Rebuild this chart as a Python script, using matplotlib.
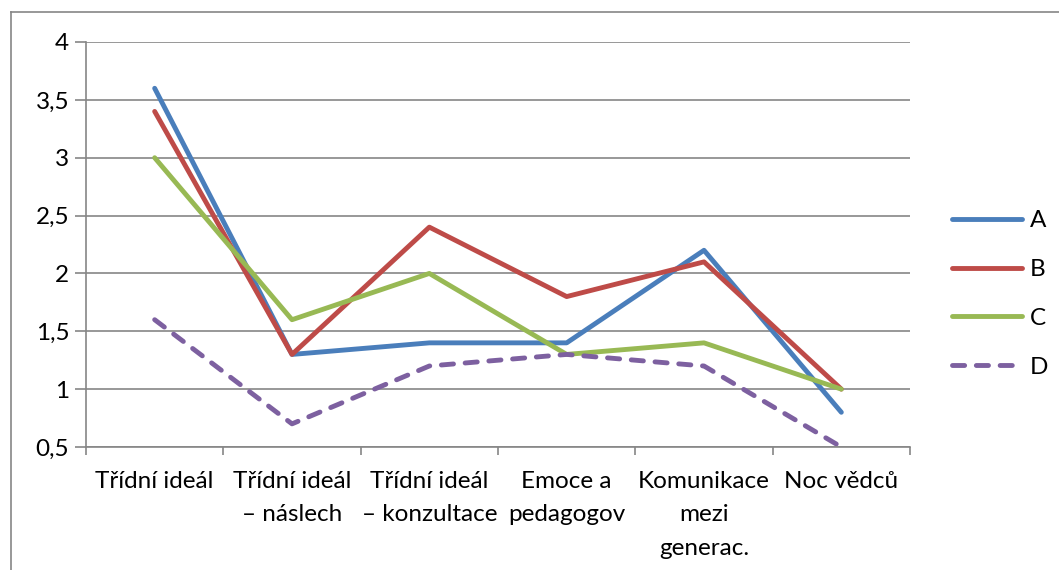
import matplotlib.pyplot as plt
from matplotlib.lines import Line2D
import numpy as np

categories = ["Třídní ideál", "Třídní ideál\n– náslech", "Třídní ideál\n– konzultace",
              "Emoce a\npedagogov", "Komunikace\nmezi\ngenerac.", "Noc vědců"]
series_a = [3.6, 1.3, 1.4, 1.4, 2.2, 0.8]
series_b = [3.4, 1.3, 2.4, 1.8, 2.1, 1.0]
series_c = [3.0, 1.6, 2.0, 1.3, 1.4, 1.0]
series_d = [1.6, 0.7, 1.2, 1.3, 1.2, 0.5]
names = ["A", "B", "C", "D"]
yticks = [0.5, 1, 1.5, 2, 2.5, 3, 3.5, 4]

plt.rcParams['font.family'] = ['Lato', 'DejaVu Sans']
grey = "#868686"
fs = 17.5

fig = plt.figure(figsize=(10.59, 5.70), dpi=100)
ax = fig.add_axes([86 / 1059, 1 - 447 / 570, 824 / 1059, 405 / 570])

x = np.arange(len(categories)) + 0.5
colors = ["#4A7EBB", "#BE4B48", "#98B954", "#7D60A0"]
for vals, name, col in zip([series_a, series_b, series_c, series_d], names, colors):
    if name == "D":
        ax.plot(x, vals, color=col, lw=3.5, label=name, dashes=(2.5, 2.4),
                dash_capstyle="round", solid_capstyle="round")
    else:
        ax.plot(x, vals, color=col, lw=3.5, label=name, solid_capstyle="round")

ax.set_xlim(0, len(categories))
ax.set_ylim(0.5, 4)
ax.set_yticks(yticks)
ax.set_yticklabels([("%g" % v).replace(".", ",") for v in yticks], fontsize=fs)
ax.set_xticks(np.arange(len(categories) + 1))
ax.set_xticklabels([])
ax.set_xticks(x, minor=True)
ax.set_xticklabels(categories, minor=True, fontsize=fs, linespacing=1.75)
ax.tick_params(axis="x", which="major", length=6, color=grey, width=1.2)
ax.tick_params(axis="x", which="minor", length=0, pad=17)
ax.tick_params(axis="y", length=8, color=grey, width=1.2, pad=4)
ax.yaxis.grid(True, color=grey, lw=1.2)
ax.set_axisbelow(True)
for s in ["top", "right"]:
    ax.spines[s].set_visible(False)
for s in ["left", "bottom"]:
    ax.spines[s].set_color(grey)
    ax.spines[s].set_linewidth(1.2)

fig.legend(loc="center left", bbox_to_anchor=(952 / 1059, 1 - 294 / 570), frameon=False,
           fontsize=fs, handlelength=2.9, handletextpad=0.3, labelspacing=1.14,
           borderpad=0, borderaxespad=0)

# outer chart border
fig.add_artist(Line2D([10.5 / 1059, 10.5 / 1059], [0, 1 - 12 / 570], color=grey, lw=1.2,
                      transform=fig.transFigure))
fig.add_artist(Line2D([10.5 / 1059, 1], [1 - 12 / 570, 1 - 12 / 570], color=grey, lw=1.2,
                      transform=fig.transFigure))

fig.savefig("out.png", dpi=100)
